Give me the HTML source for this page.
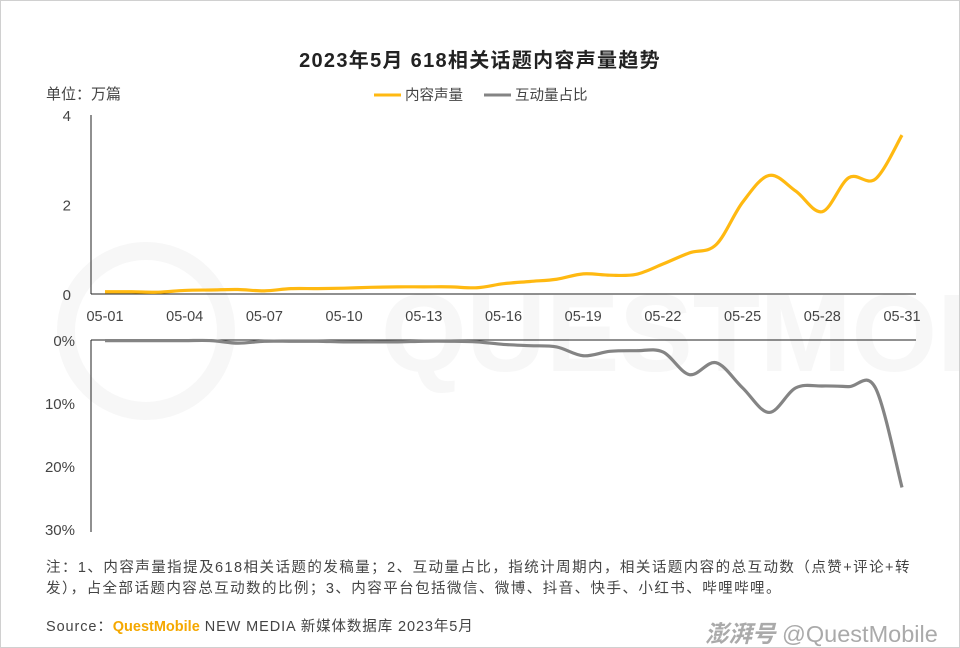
<!DOCTYPE html>
<html><head><meta charset="utf-8"><style>
body{margin:0;background:#fff}
#wrap{position:relative;width:958px;height:646px;border:1px solid #d0d0d0;overflow:hidden;font-family:"Liberation Sans","Noto Sans CJK SC",sans-serif;color:#333}
.t{position:absolute;white-space:nowrap}
</style></head><body>
<div id="wrap">
<div class="t" style="left:0;width:958px;text-align:center;top:43px;font-size:20px;letter-spacing:1.3px;font-weight:bold;color:#222">2023年5月 618相关话题内容声量趋势</div>
<div class="t" style="left:45px;top:82px;font-size:15px;color:#444">单位：万篇</div>
<svg id="ch" width="958" height="646" style="position:absolute;left:0;top:0"></svg>
<div class="t" style="left:45px;top:557px;font-size:14.5px;letter-spacing:1.45px;line-height:21px;color:#444">注：1、内容声量指提及618相关话题的发稿量；2、互动量占比，指统计周期内，相关话题内容的总互动数（点赞+评论+转<br>发），占全部话题内容总互动数的比例；3、内容平台包括微信、微博、抖音、快手、小红书、哔哩哔哩。</div>
<div class="t" style="left:45px;top:614px;font-size:14.5px;letter-spacing:0.9px;color:#444">Source：<span style="color:#f5a800;font-weight:bold;letter-spacing:0">QuestMobile</span> NEW MEDIA 新媒体数据库 2023年5月</div>
<div class="t" style="left:704px;top:614px;font-size:23.5px;color:#aaa"><i style="font-weight:bold">澎湃号</i> @QuestMobile</div>
</div>
<script>
const days=['05-01','05-02','05-03','05-04','05-05','05-06','05-07','05-08','05-09','05-10','05-11','05-12','05-13','05-14','05-15','05-16','05-17','05-18','05-19','05-20','05-21','05-22','05-23','05-24','05-25','05-26','05-27','05-28','05-29','05-30','05-31'];
const volume=[0.05,0.05,0.04,0.08,0.09,0.10,0.07,0.12,0.12,0.13,0.15,0.16,0.16,0.16,0.14,0.23,0.28,0.33,0.45,0.42,0.44,0.67,0.92,1.1,2.05,2.65,2.3,1.84,2.6,2.57,3.55];
const share=[0.1,0.1,0.1,0.1,0.1,0.5,0.2,0.2,0.2,0.3,0.3,0.3,0.2,0.2,0.3,0.7,0.9,1.1,2.5,1.8,1.7,1.9,5.5,3.6,7.6,11.5,7.6,7.3,7.4,7.6,23.4];
const topTicks=[0,2,4];
const botTicks=[0,10,20,30];
const legendLabels=['内容声量','互动量占比'];
const NS='http://www.w3.org/2000/svg',svg=document.getElementById('ch');
function el(t,a,txt){const e=document.createElementNS(NS,t);for(const k in a)e.setAttribute(k,a[k]);if(txt!=null)e.textContent=txt;svg.appendChild(e);return e;}
const x=i=>104+i*(901-104)/30;
const yT=v=>293-v*44.75;
const yB=v=>339+v*6.3;
let w=el('text',{x:380,y:370,'font-size':110,'font-weight':'bold',fill:'#f7f7f7','font-family':'Liberation Sans'},'QUESTMOBILE');

let wc=el('circle',{cx:145,cy:330,r:80,fill:'none',stroke:'#f7f7f7','stroke-width':18});

let a=el('line',{x1:90,y1:114,x2:90,y2:293,stroke:'#222','stroke-width':1});

a=el('line',{x1:90,y1:293,x2:915,y2:293,stroke:'#222','stroke-width':1});

a=el('line',{x1:90,y1:339,x2:915,y2:339,stroke:'#222','stroke-width':1});

a=el('line',{x1:90,y1:339,x2:90,y2:531,stroke:'#222','stroke-width':1});

topTicks.forEach(v=>{const t=el('text',{x:70,y:yT(v)+6,'font-size':15,fill:'#444','text-anchor':'end'},String(v));
});
botTicks.forEach(v=>{const t=el('text',{x:74,y:yB(v)+6,'font-size':15,fill:'#444','text-anchor':'end'},v+'%');
});
days.forEach((d,i)=>{if(i%3==0){const t=el('text',{x:x(i),y:320,'font-size':14.5,fill:'#444','text-anchor':'middle'},d);
}});
function smooth(pts){let d='M'+pts[0][0]+','+pts[0][1];for(let i=0;i<pts.length-1;i++){const p0=pts[i-1]||pts[i],p1=pts[i],p2=pts[i+1],p3=pts[i+2]||p2;
d+=' C'+(p1[0]+(p2[0]-p0[0])/6)+','+(p1[1]+(p2[1]-p0[1])/6)+' '+(p2[0]-(p3[0]-p1[0])/6)+','+(p2[1]-(p3[1]-p1[1])/6)+' '+p2[0]+','+p2[1];}return d;}
let l=el('path',{d:smooth(volume.map((v,i)=>[x(i),yT(v)])),fill:'none',stroke:'#ffb911','stroke-width':3.2,'stroke-linejoin':'round'});

l=el('path',{d:smooth(share.map((v,i)=>[x(i),yB(v)])),fill:'none',stroke:'#848484','stroke-width':3.2,'stroke-linejoin':'round'});

[[373,'#ffb911'],[483,'#848484']].forEach((c,i)=>{const g=el('line',{x1:c[0],y1:94,x2:c[0]+27,y2:94,stroke:c[1],'stroke-width':3});

const t=el('text',{x:c[0]+31,y:99,'font-size':14.5,fill:'#444'},legendLabels[i]);
});
</script>
</body></html>
